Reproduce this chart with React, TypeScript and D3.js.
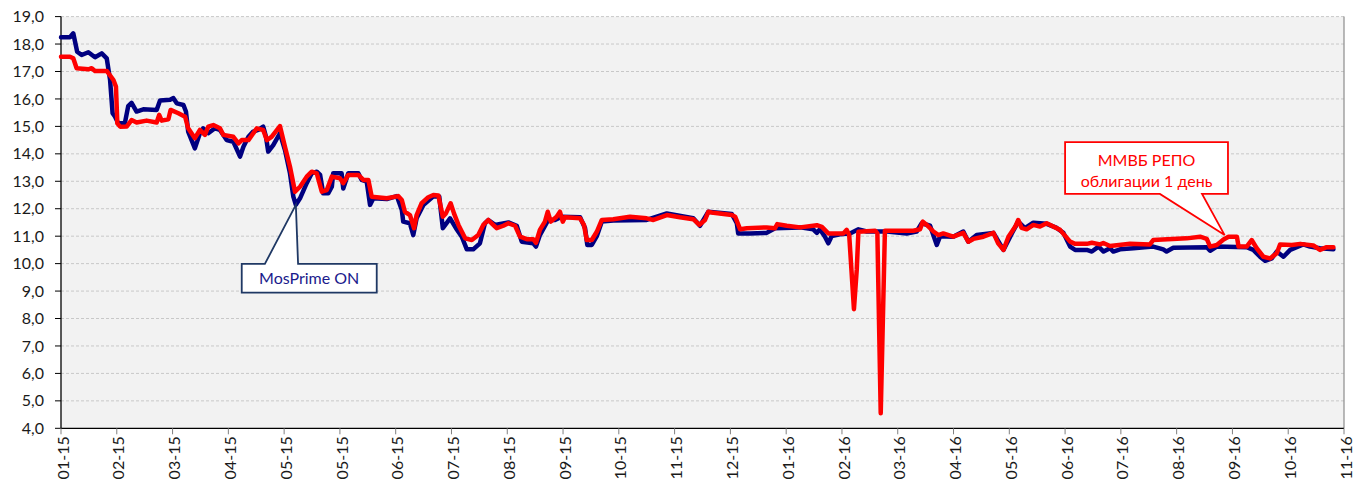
import React from 'react';
import * as d3 from 'd3';

// x is a trading-day index, one label every 20 days
const tickLabels = [
  '01-15', '02-15', '03-15', '04-15', '05-15', '05-15', '06-15', '07-15',
  '08-15', '09-15', '10-15', '11-15', '12-15', '01-16', '02-16', '03-16',
  '04-16', '05-16', '06-16', '07-16', '08-16', '09-16', '10-16', '11-16'
];
const daysPerTick = 20;
const yTicks = [4, 5, 6, 7, 8, 9, 10, 11, 12, 13, 14, 15, 16, 17, 18, 19];

// MosPrime ON, [day, %]
const mosprime: [number, number][] = [
  [0, 18.25], [3.2, 18.25], [4.4, 18.39], [5.8, 17.72], [7.4, 17.6], [9.8, 17.7],
  [12.2, 17.52], [14.6, 17.66], [16.4, 17.48], [17.6, 16.69], [18.5, 15.48],
  [19.4, 15.35], [20.5, 15.11], [22.9, 15.12], [24.1, 15.74], [25.3, 15.86],
  [27.1, 15.54], [29.5, 15.62], [34.3, 15.6], [35.5, 15.94], [39.1, 15.97],
  [40.3, 16.03], [41.5, 15.84], [43.9, 15.78], [44.8, 15.54], [45.6, 14.81],
  [48.0, 14.2], [49.8, 14.75], [51.0, 14.93], [52.8, 14.75], [55.2, 14.93],
  [57.0, 14.87], [59.4, 14.5], [61.8, 14.44], [64.2, 13.9], [65.4, 14.26],
  [67.2, 14.62], [68.9, 14.81], [70.7, 14.87], [72.5, 14.99], [73.5, 14.62],
  [74.3, 14.08], [76.1, 14.32], [78.5, 14.75], [80.3, 14.14], [82.1, 13.29],
  [83.3, 12.44], [84.2, 12.14], [85.7, 12.38], [88.1, 12.93], [89.9, 13.29],
  [91.7, 13.35], [92.9, 13.23], [94.0, 12.56], [95.8, 12.56], [97.1, 12.8],
  [97.6, 13.29], [100.6, 13.29], [101.2, 12.74], [103.0, 13.29], [106.6, 13.29],
  [107.8, 13.05], [109.6, 12.99], [110.8, 12.14], [112.0, 12.38], [116.8, 12.35],
  [120.4, 12.46], [122.2, 11.95], [122.7, 11.53], [125.1, 11.47], [126.3, 11.04],
  [127.5, 11.65], [129.9, 12.13], [133.5, 12.45], [135.6, 12.45], [136.9, 11.29],
  [139.5, 11.65], [141.6, 11.29], [143.7, 10.98], [145.5, 10.52], [147.8, 10.52],
  [150.2, 10.74], [152.0, 11.47], [153.2, 11.59], [155.6, 11.41], [160.4, 11.5],
  [163.4, 11.38], [165.2, 10.8], [169.3, 10.74], [170.3, 10.62], [171.7, 11.04],
  [174.7, 11.59], [177.1, 11.59], [179.5, 11.71], [186.1, 11.69], [187.9, 11.29],
  [188.7, 10.68], [190.3, 10.68], [192.1, 11.0], [193.9, 11.53], [198.0, 11.57],
  [210.0, 11.59], [217.2, 11.83], [226.7, 11.65], [229.1, 11.38], [232.1, 11.89],
  [240.5, 11.81], [242.3, 11.47], [242.8, 11.1], [247.0, 11.1], [253.0, 11.12],
  [256.0, 11.29], [265.0, 11.32], [269.7, 11.25], [271.0, 11.12], [272.1, 11.25],
  [273.9, 10.98], [275.1, 10.74], [276.3, 11.0], [279.3, 11.07], [282.9, 11.1],
  [285.9, 11.25], [288.9, 11.17], [296.1, 11.17], [303.2, 11.1], [306.8, 11.17],
  [308.6, 11.47], [311.6, 11.38], [314.0, 10.68], [315.2, 11.0], [319.9, 10.98],
  [323.5, 11.17], [325.3, 10.8], [328.3, 11.04], [334.3, 11.12], [337.9, 10.5],
  [340.9, 11.1], [343.2, 11.53], [345.6, 11.29], [348.6, 11.49], [353.4, 11.45],
  [357.0, 11.3], [359.4, 11.12], [361.8, 10.62], [363.6, 10.5], [367.8, 10.5],
  [369.6, 10.44], [372.0, 10.62], [373.8, 10.44], [376.1, 10.56], [377.3, 10.44],
  [379.7, 10.52], [384.5, 10.56], [391.6, 10.62], [395.2, 10.52], [396.4, 10.44],
  [398.8, 10.58], [410.8, 10.6], [412.0, 10.47], [414.4, 10.62], [425.1, 10.6],
  [427.5, 10.5], [429.9, 10.25], [431.7, 10.1], [434.1, 10.19], [435.9, 10.44],
  [438.3, 10.25], [440.7, 10.5], [445.4, 10.7], [447.8, 10.62], [451.4, 10.56],
  [456.2, 10.52]
];

// ММВБ РЕПО облигации 1 день, [day, %]
const repo: [number, number][] = [
  [0, 17.54], [3.2, 17.54], [4.4, 17.48], [5.6, 17.12], [9.8, 17.08], [11.0, 17.12],
  [12.2, 17.02], [16.4, 17.02], [18.8, 16.69], [19.7, 16.45], [20.2, 15.11],
  [21.2, 14.99], [23.6, 15.0], [25.3, 15.23], [27.1, 15.14], [30.7, 15.21],
  [34.3, 15.14], [35.2, 15.42], [36.1, 15.21], [38.5, 15.26], [39.3, 15.6],
  [42.1, 15.48], [44.5, 15.35], [45.6, 14.93], [48.0, 14.57], [49.8, 14.87],
  [51.6, 14.69], [52.8, 14.99], [54.6, 15.05], [57.0, 14.93], [58.2, 14.69],
  [61.8, 14.62], [63.6, 14.38], [64.8, 14.5], [67.2, 14.5], [70.2, 14.93],
  [72.5, 14.87], [73.8, 14.5], [75.5, 14.62], [78.5, 15.01], [80.3, 14.26],
  [82.1, 13.53], [83.9, 12.62], [85.7, 12.8], [88.1, 13.17], [89.9, 13.35],
  [91.7, 13.29], [93.5, 12.62], [95.3, 12.68], [97.1, 13.17], [100.0, 13.11],
  [101.2, 12.93], [103.0, 13.23], [106.6, 13.23], [108.4, 13.05], [110.2, 13.05],
  [111.4, 12.44], [116.8, 12.38], [120.9, 12.46], [122.2, 12.32], [123.3, 11.89],
  [125.1, 11.77], [126.6, 11.29], [127.5, 11.77], [129.3, 12.2], [131.7, 12.42],
  [133.5, 12.5], [135.3, 12.48], [136.9, 11.71], [138.0, 11.83], [139.7, 12.2],
  [140.9, 11.83], [142.5, 11.41], [144.9, 10.92], [147.3, 10.86], [149.6, 11.04],
  [151.4, 11.41], [153.2, 11.59], [154.4, 11.47], [156.2, 11.29], [158.6, 11.38],
  [160.4, 11.47], [162.8, 11.38], [164.6, 10.98], [167.0, 10.89], [169.3, 10.89],
  [170.3, 10.76], [171.7, 11.23], [173.5, 11.53], [174.5, 11.89], [175.6, 11.53],
  [177.7, 11.71], [178.9, 11.89], [179.9, 11.53], [180.7, 11.69], [186.1, 11.65],
  [187.5, 11.41], [188.5, 10.86], [190.3, 10.86], [192.1, 11.16], [193.9, 11.59],
  [198.0, 11.62], [204.0, 11.71], [210.0, 11.65], [212.4, 11.59], [217.2, 11.77],
  [221.9, 11.69], [226.7, 11.62], [228.9, 11.41], [230.9, 11.59], [232.1, 11.89],
  [233.9, 11.85], [240.5, 11.77], [241.7, 11.71], [243.5, 11.25], [245.9, 11.29],
  [253.0, 11.32], [256.0, 11.29], [256.8, 11.44], [260.2, 11.38], [265.0, 11.32],
  [271.0, 11.4], [272.8, 11.34], [275.1, 11.1], [280.5, 11.1], [281.7, 11.23],
  [282.6, 11.04], [284.3, 8.34], [285.3, 9.77], [285.9, 11.16], [291.9, 11.2],
  [292.7, 11.1], [293.9, 4.55], [295.4, 11.2], [305.6, 11.2], [308.0, 11.25],
  [309.0, 11.53], [310.4, 11.41], [312.8, 11.17], [314.6, 11.04], [316.3, 11.1],
  [319.9, 10.98], [323.5, 11.12], [325.3, 10.8], [327.1, 10.9], [330.7, 10.98],
  [334.3, 11.12], [336.0, 10.74], [337.9, 10.5], [339.7, 10.98], [342.1, 11.34],
  [343.2, 11.59], [344.4, 11.3], [346.2, 11.25], [348.6, 11.41], [351.0, 11.35],
  [353.4, 11.47], [358.2, 11.23], [361.8, 10.8], [363.6, 10.72], [367.8, 10.72],
  [369.6, 10.76], [372.5, 10.7], [373.7, 10.75], [376.1, 10.64], [383.3, 10.72],
  [390.4, 10.7], [391.6, 10.86], [403.6, 10.92], [408.4, 10.98], [410.8, 10.9],
  [412.0, 10.62], [414.4, 10.68], [416.8, 10.88], [418.6, 10.98], [421.6, 10.98],
  [422.2, 10.62], [425.1, 10.62], [426.9, 10.86], [428.7, 10.56], [431.1, 10.25],
  [433.5, 10.19], [435.9, 10.38], [437.1, 10.7], [441.3, 10.68], [444.3, 10.72],
  [449.0, 10.66], [451.4, 10.5], [453.8, 10.6], [456.2, 10.6]
];

const width = 1355;
const height = 492;
const plot = { left: 61, right: 1344, top: 16.6, bottom: 428.3 };
const font = "Lato, 'Noto Sans', sans-serif";

const blue = '#000080';
const red = '#ff0000';
const navyBorder = '#1f3864';

function App() {
  const x = d3.scaleLinear()
    .domain([0, (tickLabels.length - 1) * daysPerTick])
    .range([plot.left, plot.right]);
  const y = d3.scaleLinear().domain([4, 19]).range([plot.bottom, plot.top]);

  const line = d3.line<[number, number]>()
    .x(d => x(d[0]))
    .y(d => y(d[1]));

  const fmt = (v: number) => v.toFixed(1).replace('.', ',');

  // callout shapes, anchored in data units
  const mp = {
    x0: x(64.8), x1: x(113.2), y0: y(9.99), y1: y(8.94),
    nA: x(73.1), nB: x(85.0), tx: x(84.2), ty: y(12.14)
  };
  const mpPath = `M${mp.x0},${mp.y0}L${mp.nA},${mp.y0}L${mp.tx},${mp.ty}L${mp.nB},${mp.y0}` +
    `L${mp.x1},${mp.y0}L${mp.x1},${mp.y1}L${mp.x0},${mp.y1}Z`;

  const rp = {
    x0: x(360.0), x1: x(418.4), y0: y(14.43), y1: y(12.54),
    nA: x(394.0), nB: x(409.1), tx: x(417.2), ty: y(11.04)
  };
  const rpPath = `M${rp.x0},${rp.y0}L${rp.x1},${rp.y0}L${rp.x1},${rp.y1}L${rp.nB},${rp.y1}` +
    `L${rp.tx},${rp.ty}L${rp.nA},${rp.y1}L${rp.x0},${rp.y1}Z`;

  return (
    <svg width={width} height={height}
      style={{ position: 'absolute', left: 0, top: 0, background: '#fff' }}
      fontFamily={font}>
      <rect x={plot.left} y={plot.top} width={plot.right - plot.left}
        height={plot.bottom - plot.top} fill="#f2f2f2" />

      {yTicks.filter(v => v > 4).map(v => (
        <line key={'g' + v} x1={plot.left} x2={plot.right} y1={y(v)} y2={y(v)}
          stroke="#c8c8c8" strokeWidth={1} strokeDasharray="3,2" />
      ))}

      <line x1={plot.right} x2={plot.right} y1={plot.top} y2={plot.bottom}
        stroke="#8c8c8c" strokeWidth={1.2} />

      {/* y axis */}
      <line x1={plot.left} x2={plot.left} y1={plot.top} y2={plot.bottom}
        stroke="#000" strokeWidth={1.3} />
      {yTicks.map(v => (
        <g key={'y' + v}>
          <line x1={plot.left - 6} x2={plot.left} y1={y(v)} y2={y(v)} stroke="#000" />
          <text x={44} y={y(v)} dy="0.35em" textAnchor="end" fontSize={16} fill="#1a1a1a">
            {fmt(v)}
          </text>
        </g>
      ))}

      {/* x axis */}
      <line x1={plot.left} x2={plot.right} y1={plot.bottom} y2={plot.bottom}
        stroke="#000" strokeWidth={1.3} />
      {tickLabels.map((lab, i) => {
        const tx = x(i * daysPerTick);
        return (
          <g key={'x' + i}>
            <line x1={tx} x2={tx} y1={plot.bottom} y2={plot.bottom + 6} stroke="#808080" />
            <text transform={`translate(${tx + 2},${plot.bottom + 8}) rotate(-90)`}
              dy="0.35em" textAnchor="end" fontSize={16} fill="#1a1a1a">
              {lab}
            </text>
          </g>
        );
      })}

      <path d={line(mosprime) || ''} fill="none" stroke={blue} strokeWidth={4.5}
        strokeLinejoin="round" strokeLinecap="round" />
      <path d={line(repo) || ''} fill="none" stroke={red} strokeWidth={4.5}
        strokeLinejoin="round" strokeLinecap="round" />

      {/* callouts */}
      <path d={mpPath} fill="#fff" stroke={navyBorder} strokeWidth={1.8} />
      <text x={(mp.x0 + mp.x1) / 2} y={(mp.y0 + mp.y1) / 2} dy="0.35em"
        textAnchor="middle" fontSize={16} fill="#1a1a8c">
        MosPrime ON
      </text>

      <path d={rpPath} fill="#fff" stroke={red} strokeWidth={1.8} />
      <text x={(rp.x0 + rp.x1) / 2} y={rp.y0 + 18} dy="0.35em"
        textAnchor="middle" fontSize={16} fill={red}>
        ММВБ РЕПО
      </text>
      <text x={(rp.x0 + rp.x1) / 2} y={rp.y0 + 39} dy="0.35em"
        textAnchor="middle" fontSize={16} fill={red}>
        облигации 1 день
      </text>
    </svg>
  );
}

export default App;
